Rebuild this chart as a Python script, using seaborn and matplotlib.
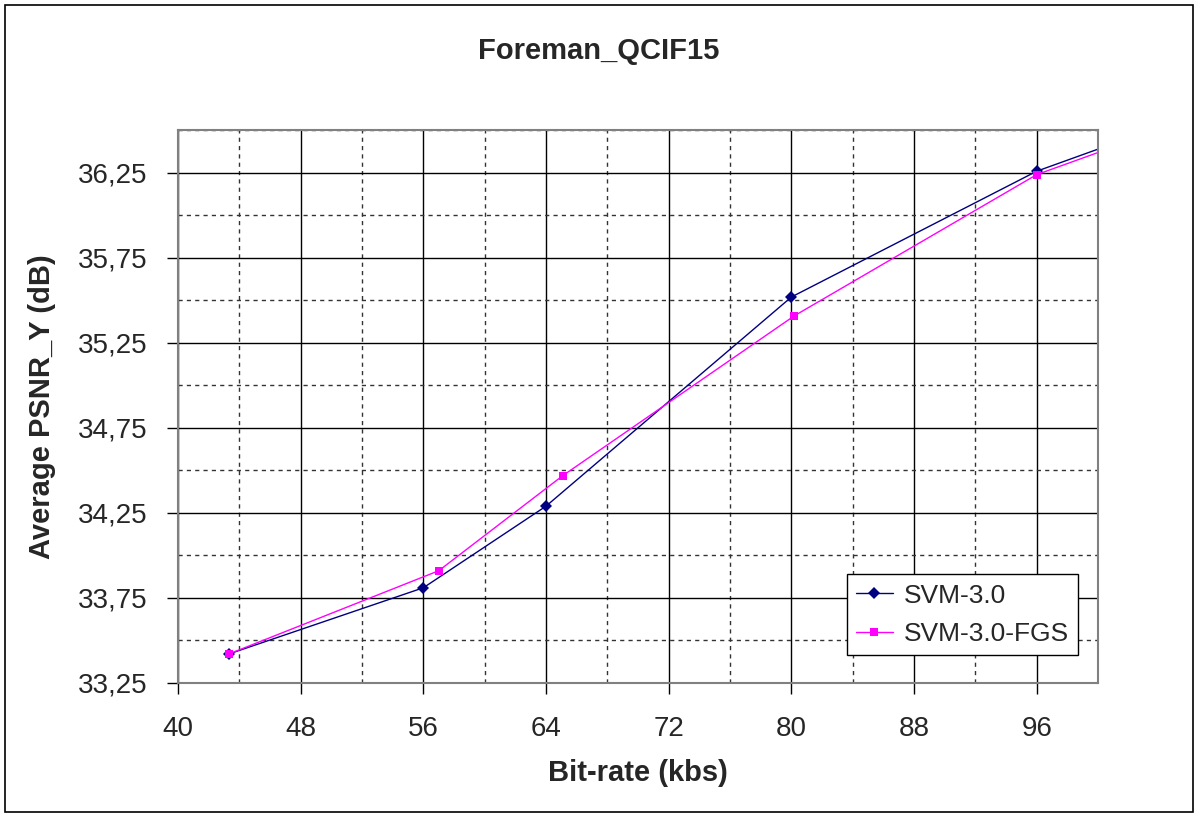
import numpy as np
import pandas as pd
import matplotlib
matplotlib.use("Agg")
import matplotlib.pyplot as plt
import seaborn as sns
from matplotlib.patches import Rectangle
from matplotlib.ticker import MultipleLocator, FuncFormatter

# data (last point lies past the axis and is clipped)
rate_svm = [43.3, 56.0, 64.0, 80.0, 96.0, 104.0]
psnr_svm = [33.42, 33.81, 34.29, 35.52, 36.26, 36.52]
rate_fgs = [43.3, 57.0, 65.1, 80.2, 96.0, 104.0]
psnr_fgs = [33.42, 33.91, 34.47, 35.41, 36.24, 36.50]

df = pd.concat([
    pd.DataFrame({"rate": rate_svm, "psnr": psnr_svm, "codec": "SVM-3.0"}),
    pd.DataFrame({"rate": rate_fgs, "psnr": psnr_fgs, "codec": "SVM-3.0-FGS"}),
])

sns.set_style("white")
plt.rcParams['font.family'] = ['Liberation Sans', 'DejaVu Sans']

fig = plt.figure(figsize=(11.98, 8.15), dpi=100)
ax = fig.add_axes([0.1486, 0.162, 0.768, 0.678])

sns.lineplot(data=df, x="rate", y="psnr", hue="codec", style="codec",
             palette={"SVM-3.0": "#000080", "SVM-3.0-FGS": "#ff00ff"},
             markers={"SVM-3.0": "D", "SVM-3.0-FGS": "s"},
             dashes=False, linewidth=1.0, markersize=6, markeredgewidth=0,
             ax=ax)

ax.set_xlim(40, 100)
ax.set_ylim(33.25, 36.5)
ax.xaxis.set_major_locator(MultipleLocator(8))
ax.xaxis.set_minor_locator(MultipleLocator(4))
ax.set_yticks(np.arange(33.25, 36.26, 0.5))
ax.yaxis.set_minor_locator(MultipleLocator(0.25))
ax.yaxis.set_major_formatter(FuncFormatter(lambda v, p: f"{v:.2f}".replace(".", ",")))

ax.grid(which="major", color="black", linewidth=1.0, linestyle="-")
ax.grid(which="minor", color="#333333", linewidth=1.0, linestyle=(0, (3, 3)))
ax.set_axisbelow(True)
for s in ax.spines.values():
    s.set_color("#808080")
    s.set_linewidth(1.5)
ax.tick_params(which="major", length=8, width=1, color="black", direction="out",
               labelsize=20, left=True, bottom=True)
ax.tick_params(axis="x", which="major", pad=16)
ax.tick_params(axis="y", which="major", pad=14)
ax.tick_params(which="minor", length=0)

ax.set_xlabel("Bit-rate (kbs)", fontsize=21, fontweight="bold", labelpad=12)
ax.set_ylabel("Average PSNR_Y (dB)", fontsize=21, fontweight="bold", labelpad=16)
fig.text(0.5, 0.937, "Foreman_QCIF15", ha="center", va="center",
         fontsize=21, fontweight="bold")

leg = ax.legend(loc="lower right", bbox_to_anchor=(0.978, 0.05), borderaxespad=0,
                fontsize=19, frameon=True, fancybox=False, edgecolor="black",
                framealpha=1, handlelength=1.4, handletextpad=0.4,
                borderpad=0.35, labelspacing=0.55)
leg.get_frame().set_linewidth(1.0)
leg.set_title(None)

fig.patches.append(Rectangle((0.004, 0.004), 0.992, 0.99, transform=fig.transFigure,
                             fill=False, edgecolor="black", linewidth=1.2))

fig.savefig("out.png", dpi=100)
